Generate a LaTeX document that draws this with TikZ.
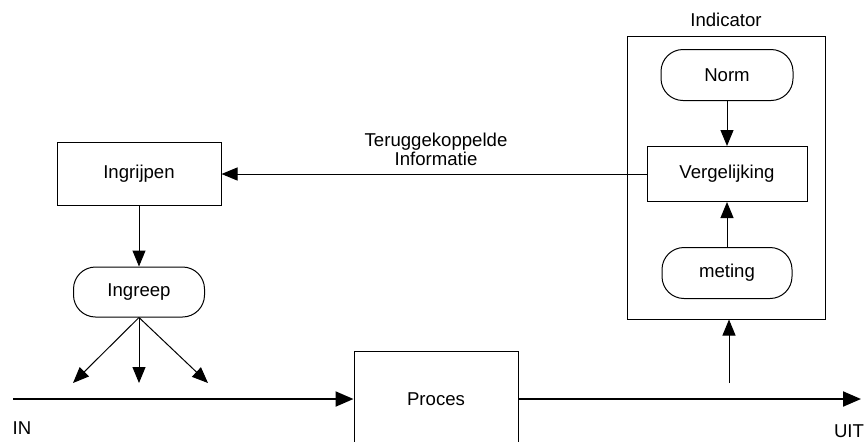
\documentclass[tikz,border=0pt]{standalone}
\usepackage{fontspec}
\setmainfont{Liberation Sans}
\usepackage{tikz}
\usetikzlibrary{arrows.meta, positioning}

\begin{document}
\begin{tikzpicture}[x=0.5pt, y=-0.5pt, node distance=49.5pt,
    font=\fontsize{9.3}{11}\selectfont,
    blok/.style={draw, rectangle, line width=0.5pt, inner sep=0pt},
    rond/.style={draw, rectangle, rounded corners=11pt, line width=0.5pt, minimum width=65.5pt, minimum height=25.5pt},
    pijl/.style={-{Triangle[length=8pt, width=6.5pt]}, line width=0.5pt},
    hoofdpijl/.style={-{Triangle[length=9pt, width=7.5pt]}, line width=1pt}]
    \useasboundingbox (0,0) rectangle (866,441);

    \node[blok, minimum width=99pt, minimum height=141.5pt] (indicator) at (726,177.5) {};
    \node[above=1pt of indicator] (indlabel) {Indicator};
    \node[rond, minimum width=66pt] (norm) at (727,75) {Norm};
    \node[blok, minimum width=80pt, minimum height=27.5pt, below of=norm] (vergelijking) {Vergelijking};
    \node[rond, minimum width=65pt, below of=vergelijking] (meting) {meting};

    \node[blok, minimum width=82pt, minimum height=31.5pt] (ingrijpen) at (139,174) {Ingrijpen};
    \node[rond, minimum height=25pt] (ingreep) at (139,292) {Ingreep};
    \node[blok, minimum width=82pt, minimum height=48pt] (proces) at (436,399) {Proces};

    \node[align=center, font=\fontsize{9.3}{9.6}\selectfont] (info) at (436,149) {Teruggekoppelde\\Informatie};
    \node (inlabel) at (22,428) {IN};
    \node (uitlabel) at (849,431) {UIT};

    \coordinate (in) at (13,399);
    \coordinate (uit) at (861,399);
    \coordinate (meetpunt) at (729,383);
    \coordinate (links) at (73,383);
    \coordinate (midden) at (139,383);
    \coordinate (rechts) at (208,383);

    \draw[hoofdpijl] (in) -- (proces.west);
    \draw[hoofdpijl] (proces.east) -- (uit);
    \draw[pijl] (meetpunt) -- (meetpunt |- indicator.south);
    \draw[pijl] (norm) -- (vergelijking);
    \draw[pijl] (meting) -- (vergelijking);
    \draw[pijl] (vergelijking.west) -- (ingrijpen.east);
    \draw[pijl] (ingrijpen) -- (ingreep);
    \draw[pijl] (ingreep.south) -- (links);
    \draw[pijl] (ingreep.south) -- (midden);
    \draw[pijl] (ingreep.south) -- (rechts);
\end{tikzpicture}
\end{document}
